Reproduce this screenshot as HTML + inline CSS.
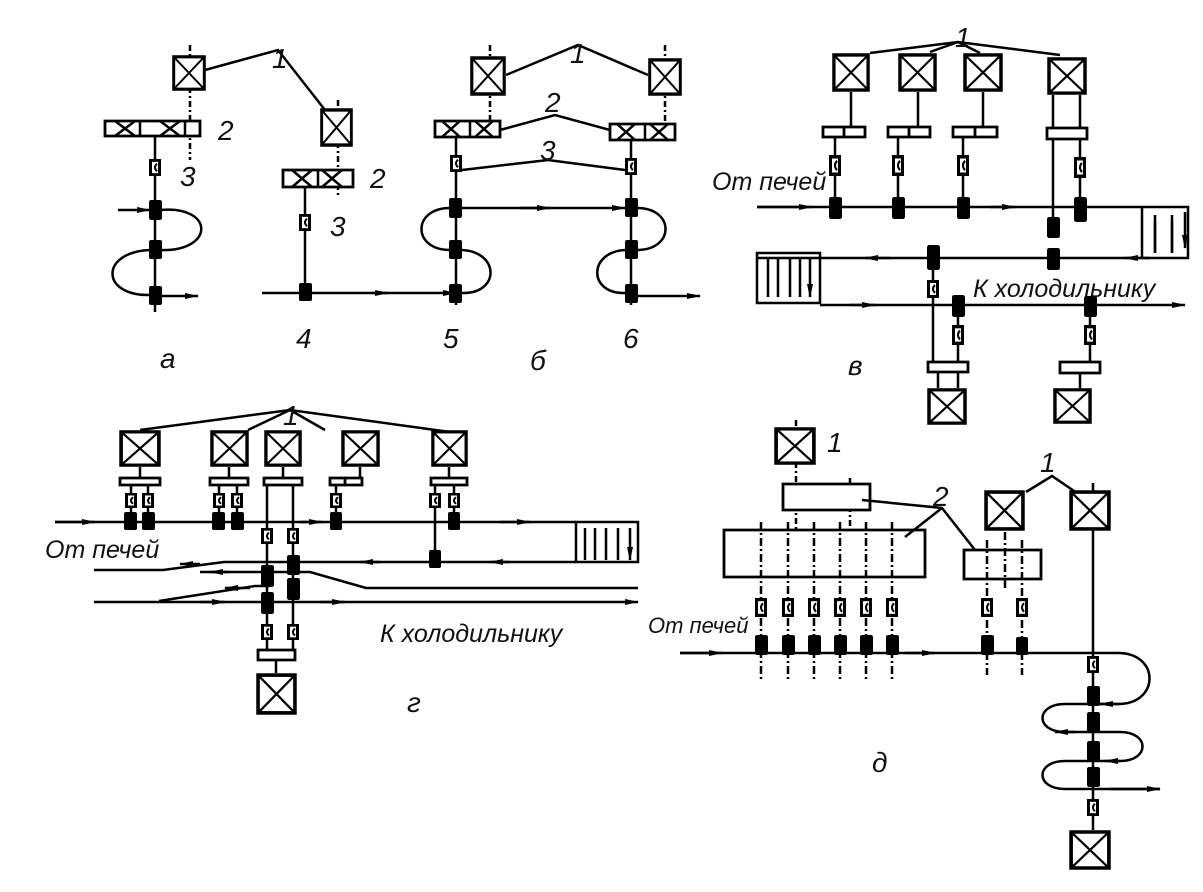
<!DOCTYPE html>
<html><head><meta charset="utf-8">
<style>
html,body{margin:0;padding:0;background:#fff;}
svg{display:block;}
text{font-family:"Liberation Sans","DejaVu Sans",sans-serif;font-style:italic;fill:#111;}
</style></head>
<body>
<svg width="1203" height="892" viewBox="0 0 1203 892" xmlns="http://www.w3.org/2000/svg">
<defs>
<symbol id="xb" viewBox="0 0 40 40" preserveAspectRatio="none">
<rect x="2" y="2" width="36" height="36" fill="#fff" stroke="#000" stroke-width="3.5"/>
<path d="M2 2L38 38M38 2L2 38" stroke="#000" stroke-width="2.2"/>
</symbol>
<symbol id="sm" viewBox="0 0 12 18" preserveAspectRatio="none">
<rect x="1.5" y="1.5" width="9" height="15" fill="#fff" stroke="#000" stroke-width="3"/>
<path d="M8 5Q4 9 8 13" fill="none" stroke="#000" stroke-width="2"/>
</symbol>
<symbol id="bk" viewBox="0 0 12 20" preserveAspectRatio="none">
<rect x="0" y="0" width="12" height="20" rx="2" fill="#000"/>
</symbol>
<marker id="ar" viewBox="0 0 14 8" refX="13" refY="4" markerWidth="14" markerHeight="8" markerUnits="userSpaceOnUse" orient="auto">
<path d="M0 1L14 4L0 7Z" fill="#000"/>
</marker>
</defs>
<g stroke="#000" stroke-width="2.5" fill="none">

<!-- а -->
<path d="M190 45V160" stroke-dasharray="6 3 2 3"/>
<path d="M155 137V312"/>
<path d="M205 70L278 50L325 110"/>
<path d="M105 121h95v15h-95z" fill="#fff" stroke-width="2.8"/>
<path d="M115 121l20 15M135 121l-20 15M160 121l20 15M180 121l-20 15M140 121v15M185 121v15"/>
<path d="M118 210H150" marker-end="url(#ar)"/>
<path d="M160 210C215 205 215 252 160 250"/>
<path d="M150 250C100 252 100 296 150 295"/>
<path d="M160 296H198" marker-end="url(#ar)"/>

<!-- 4 / б -->
<path d="M338 100V195" stroke-dasharray="6 3 2 3"/>
<path d="M305 186V300"/>
<path d="M283 170h70v17h-70z" fill="#fff" stroke-width="2.8"/>
<path d="M292 170l20 17M312 170l-20 17M322 170l20 17M342 170l-20 17M318 170v17"/>
<path d="M262 293H456" marker-end="url(#ar)"/>
<path d="M372 293h16" marker-end="url(#ar)"/>

<path d="M490 45V130" stroke-dasharray="6 3 2 3"/>
<path d="M665 45V130" stroke-dasharray="6 3 2 3"/>
<path d="M506 75L578 45L648 75"/>
<path d="M456 138V305"/>
<path d="M631 140V305"/>
<path d="M435 121h65v16h-65z" fill="#fff" stroke-width="2.8"/>
<path d="M442 121l18 16M460 121l-18 16M475 121l18 16M493 121l-18 16M470 121v16"/>
<path d="M610 124h65v16h-65z" fill="#fff" stroke-width="2.8"/>
<path d="M617 124l18 16M635 124l-18 16M650 124l18 16M668 124l-18 16M645 124v16"/>
<path d="M500 130L555 115L610 130"/>
<path d="M462 170L548 160L625 170"/>
<path d="M462 208H625" marker-end="url(#ar)"/>
<path d="M520 208h30" marker-end="url(#ar)"/>
<path d="M450 208C412 208 412 250 450 250"/>
<path d="M462 250C500 252 500 294 462 293"/>
<path d="M637 208C675 208 675 250 637 250"/>
<path d="M625 250C588 252 588 294 625 293"/>
<path d="M637 296H700" marker-end="url(#ar)"/>

<!-- в -->
<path d="M870 53L958 42L1060 55M958 42L930 52M958 42L980 53"/>
<path d="M851 92V127M918 92V127M983 92V127"/>
<path d="M1053 95V235M1080 95V128"/>
<path d="M823 127h42v10h-42zM844 127v10" fill="#fff" stroke-width="2.8"/>
<path d="M888 127h42v10h-42zM909 127v10" fill="#fff" stroke-width="2.8"/>
<path d="M953 127h44v10h-44zM975 127v10" fill="#fff" stroke-width="2.8"/>
<path d="M1047 128h40v11h-40z" fill="#fff" stroke-width="2.8"/>
<path d="M835 137V210M898 137V210M963 137V210M1080 139V210"/>
<path d="M757 207H1188V258H757"/>
<path d="M757 207h55" marker-end="url(#ar)"/>
<path d="M990 207h25" marker-end="url(#ar)"/>
<path d="M1142 207V258M1155 215v38M1172 215v38"/>
<path d="M1155 222v30M1172 222v30M1185 212v36" marker-end="url(#ar)"/>
<path d="M1150 258h-25" marker-end="url(#ar)"/>
<path d="M890 258h-25" marker-end="url(#ar)"/>
<path d="M757 253h63v50h-63z"/>
<path d="M768 257v40M778 257v40M790 257v40M800 257v40M810 257v40" marker-end="url(#ar)"/>
<path d="M820 305H1185" marker-end="url(#ar)"/>
<path d="M850 305h25" marker-end="url(#ar)"/>
<path d="M933 258V363M958 305V363M1090 305V363"/>
<path d="M928 362h40v10h-40z" fill="#fff" stroke-width="2.8"/>
<path d="M1060 362h40v11h-40z" fill="#fff" stroke-width="2.8"/>
<path d="M938 372V388M958 372V388M1080 373V390"/>

<!-- г -->
<path d="M140 430L290 410L450 432M290 410L248 430M290 410L325 430"/>
<path d="M140 467V478M229 467V478M283 467V478M360 467V478M449 467V478"/>
<path d="M120 478h40v7h-40z" fill="#fff" stroke-width="2.8"/>
<path d="M210 478h38v7h-38z" fill="#fff" stroke-width="2.8"/>
<path d="M264 478h38v7h-38z" fill="#fff" stroke-width="2.8"/>
<path d="M330 478h32v7h-32zM345 478v7" fill="#fff" stroke-width="2.8"/>
<path d="M431 478h36v7h-36z" fill="#fff" stroke-width="2.8"/>
<path d="M131 485V525M148 485V525M219 485V525M237 485V525M336 485V525M435 485V565M454 485V525"/>
<path d="M267 485V650M293 485V650"/>
<path d="M55 522H576"/>
<path d="M55 522h40" marker-end="url(#ar)"/>
<path d="M300 522h22" marker-end="url(#ar)"/>
<path d="M500 522h30" marker-end="url(#ar)"/>
<path d="M576 522h62v40h-62z"/>
<path d="M585 528v32M595 528v32M606 528v32M618 528v32M630 528v32" marker-end="url(#ar)"/>
<path d="M576 562H224L163 570H94"/>
<path d="M510 562h-20" marker-end="url(#ar)"/>
<path d="M380 562h-20" marker-end="url(#ar)"/>
<path d="M200 564h-20" marker-end="url(#ar)"/>
<path d="M200 572H310L366 588H638"/>
<path d="M230 572h-20" marker-end="url(#ar)"/>
<path d="M250 588h-25" marker-end="url(#ar)"/>
<path d="M159 601L255 586H270"/>
<path d="M94 602H638" marker-end="url(#ar)"/>
<path d="M200 602h25" marker-end="url(#ar)"/>
<path d="M320 602h25" marker-end="url(#ar)"/>
<path d="M258 650h37v10h-37z" fill="#fff" stroke-width="2.8"/>
<path d="M276 660V673"/>

<!-- д -->
<path d="M796 420V530M850 478V530" stroke-dasharray="6 3 2 3"/>
<path d="M783 484h87v26h-87z" fill="#fff" stroke-width="2.8"/>
<path d="M724 530h201v47h-201z" fill="#fff" stroke-width="2.8"/>
<path d="M964 550h77v29h-77z" fill="#fff" stroke-width="2.8"/>
<path d="M761 522V680M788 522V680M814 522V680M840 522V680M866 522V680M892 522V680M987 540V675M1022 540V675M1005 500V590" stroke-dasharray="8 3 2 3"/>
<path d="M862 500L942 508L975 550M942 508L905 537"/>
<path d="M1026 492L1052 476L1080 495"/>
<path d="M1093 483V830"/>
<path d="M680 653H1118C1160 653 1160 704 1118 704H1093"/>
<path d="M680 653h42" marker-end="url(#ar)"/>
<path d="M905 653h30" marker-end="url(#ar)"/>
<path d="M1120 704h-20" marker-end="url(#ar)"/>
<path d="M1093 704H1065C1035 704 1035 732 1065 732H1120C1150 732 1150 761 1120 761H1065C1035 761 1035 789 1065 789H1160"/>
<path d="M1075 732h-20" marker-end="url(#ar)"/>
<path d="M1120 761h-15" marker-end="url(#ar)"/>
<path d="M1110 789h50" marker-end="url(#ar)"/>
</g>

<use href="#xb" x="172" y="55" width="34" height="36"/>
<use href="#xb" x="320" y="108" width="33" height="39"/>
<use href="#xb" x="470" y="56" width="36" height="40"/>
<use href="#xb" x="648" y="58" width="34" height="38"/>
<use href="#xb" x="832" y="53" width="38" height="39"/>
<use href="#xb" x="898" y="53" width="39" height="39"/>
<use href="#xb" x="963" y="53" width="40" height="39"/>
<use href="#xb" x="1047" y="57" width="40" height="38"/>
<use href="#xb" x="927" y="388" width="40" height="37"/>
<use href="#xb" x="1053" y="388" width="39" height="36"/>
<use href="#xb" x="119" y="430" width="42" height="37"/>
<use href="#xb" x="210" y="430" width="39" height="37"/>
<use href="#xb" x="264" y="430" width="38" height="37"/>
<use href="#xb" x="341" y="430" width="39" height="37"/>
<use href="#xb" x="431" y="430" width="37" height="37"/>
<use href="#xb" x="256" y="673" width="41" height="42"/>
<use href="#xb" x="774" y="427" width="42" height="38"/>
<use href="#xb" x="984" y="490" width="41" height="41"/>
<use href="#xb" x="1069" y="490" width="42" height="41"/>
<use href="#xb" x="1069" y="830" width="42" height="40"/>

<use href="#sm" x="149" y="159" width="12" height="17"/>
<use href="#sm" x="299" y="214" width="12" height="17"/>
<use href="#sm" x="450" y="155" width="12" height="17"/>
<use href="#sm" x="625" y="158" width="12" height="17"/>
<use href="#sm" x="829" y="155" width="12" height="21"/>
<use href="#sm" x="892" y="155" width="12" height="21"/>
<use href="#sm" x="957" y="155" width="12" height="21"/>
<use href="#sm" x="1074" y="157" width="12" height="21"/>
<use href="#sm" x="927" y="280" width="12" height="18"/>
<use href="#sm" x="952" y="325" width="12" height="20"/>
<use href="#sm" x="1084" y="325" width="12" height="20"/>
<use href="#sm" x="125" y="493" width="12" height="15"/>
<use href="#sm" x="142" y="493" width="12" height="15"/>
<use href="#sm" x="213" y="493" width="12" height="15"/>
<use href="#sm" x="231" y="493" width="12" height="15"/>
<use href="#sm" x="330" y="493" width="12" height="15"/>
<use href="#sm" x="429" y="493" width="12" height="15"/>
<use href="#sm" x="448" y="493" width="12" height="15"/>
<use href="#sm" x="261" y="528" width="12" height="16"/>
<use href="#sm" x="287" y="528" width="12" height="16"/>
<use href="#sm" x="261" y="624" width="12" height="16"/>
<use href="#sm" x="287" y="624" width="12" height="16"/>
<use href="#sm" x="755" y="598" width="12" height="19"/>
<use href="#sm" x="782" y="598" width="12" height="19"/>
<use href="#sm" x="808" y="598" width="12" height="19"/>
<use href="#sm" x="834" y="598" width="12" height="19"/>
<use href="#sm" x="860" y="598" width="12" height="19"/>
<use href="#sm" x="886" y="598" width="12" height="19"/>
<use href="#sm" x="981" y="598" width="12" height="19"/>
<use href="#sm" x="1016" y="598" width="12" height="19"/>
<use href="#sm" x="1087" y="656" width="12" height="17"/>
<use href="#sm" x="1087" y="799" width="12" height="17"/>

<use href="#bk" x="149" y="200" width="13" height="20"/>
<use href="#bk" x="149" y="240" width="13" height="19"/>
<use href="#bk" x="149" y="286" width="13" height="19"/>
<use href="#bk" x="299" y="283" width="13" height="18"/>
<use href="#bk" x="449" y="198" width="13" height="20"/>
<use href="#bk" x="449" y="240" width="13" height="19"/>
<use href="#bk" x="449" y="284" width="13" height="19"/>
<use href="#bk" x="625" y="198" width="13" height="19"/>
<use href="#bk" x="625" y="240" width="13" height="19"/>
<use href="#bk" x="625" y="284" width="13" height="19"/>
<use href="#bk" x="829" y="197" width="13" height="22"/>
<use href="#bk" x="892" y="197" width="13" height="22"/>
<use href="#bk" x="957" y="197" width="13" height="22"/>
<use href="#bk" x="1074" y="197" width="13" height="25"/>
<use href="#bk" x="1047" y="217" width="13" height="21"/>
<use href="#bk" x="1047" y="248" width="13" height="22"/>
<use href="#bk" x="927" y="245" width="13" height="25"/>
<use href="#bk" x="952" y="295" width="13" height="22"/>
<use href="#bk" x="1084" y="296" width="13" height="21"/>
<use href="#bk" x="124" y="512" width="13" height="18"/>
<use href="#bk" x="142" y="512" width="13" height="18"/>
<use href="#bk" x="212" y="512" width="13" height="18"/>
<use href="#bk" x="231" y="512" width="13" height="18"/>
<use href="#bk" x="330" y="512" width="12" height="18"/>
<use href="#bk" x="448" y="512" width="12" height="18"/>
<use href="#bk" x="429" y="550" width="12" height="18"/>
<use href="#bk" x="287" y="555" width="13" height="20"/>
<use href="#bk" x="261" y="565" width="13" height="22"/>
<use href="#bk" x="287" y="578" width="13" height="22"/>
<use href="#bk" x="261" y="592" width="13" height="22"/>
<use href="#bk" x="755" y="635" width="13" height="20"/>
<use href="#bk" x="782" y="635" width="13" height="20"/>
<use href="#bk" x="808" y="635" width="13" height="20"/>
<use href="#bk" x="834" y="635" width="13" height="20"/>
<use href="#bk" x="860" y="635" width="13" height="20"/>
<use href="#bk" x="886" y="635" width="13" height="20"/>
<use href="#bk" x="981" y="635" width="13" height="20"/>
<use href="#bk" x="1016" y="637" width="12" height="18"/>
<use href="#bk" x="1087" y="686" width="13" height="20"/>
<use href="#bk" x="1087" y="712" width="13" height="20"/>
<use href="#bk" x="1087" y="741" width="13" height="20"/>
<use href="#bk" x="1087" y="767" width="13" height="20"/>

<g font-size="28">
<text x="272" y="68">1</text>
<text x="218" y="140">2</text>
<text x="180" y="186">3</text>
<text x="370" y="188">2</text>
<text x="330" y="236">3</text>
<text x="570" y="63">1</text>
<text x="545" y="112">2</text>
<text x="540" y="160">3</text>
<text x="296" y="348">4</text>
<text x="443" y="348">5</text>
<text x="623" y="348">6</text>
<text x="955" y="47">1</text>
<text x="283" y="425">1</text>
<text x="827" y="452">1</text>
<text x="1040" y="472">1</text>
<text x="933" y="506">2</text>
<text x="160" y="368">а</text>
<text x="530" y="370">б</text>
<text x="848" y="375">в</text>
<text x="407" y="712">г</text>
<text x="872" y="772">д</text>
</g>
<g font-size="25">
<text x="712" y="190">От печей</text>
<text x="973" y="297">К холодильнику</text>
<text x="45" y="558">От печей</text>
<text x="380" y="642">К холодильнику</text>
<text x="648" y="633" font-size="22">От печей</text>
</g>
</svg>
</body></html>
